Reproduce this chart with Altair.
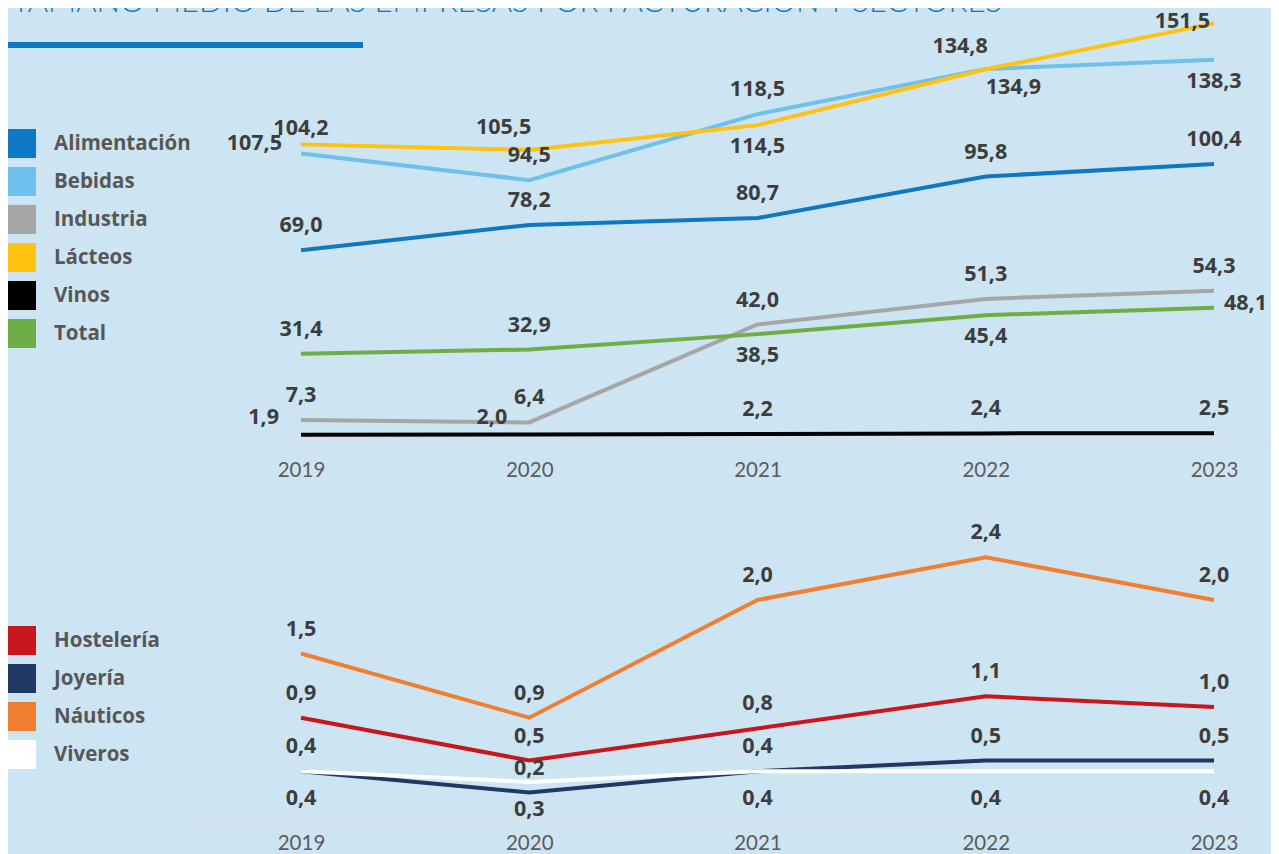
import altair as alt
import pandas as pd

# ---------------- data ----------------
years = ["2019", "2020", "2021", "2022", "2023"]

top_series = ["Alimentación", "Bebidas", "Industria", "Lácteos", "Vinos", "Total"]
top_colors = ["#0f78c3", "#6fc0ec", "#a6a6a6", "#ffc20e", "#000000", "#6fad46"]
alimentacion = [69.0, 78.2, 80.7, 95.8, 100.4]
bebidas = [104.2, 94.5, 118.5, 134.9, 138.3]
industria = [7.3, 6.4, 42.0, 51.3, 54.3]
lacteos = [107.5, 105.5, 114.5, 134.8, 151.5]
vinos = [1.9, 2.0, 2.2, 2.4, 2.5]
total = [31.4, 32.9, 38.5, 45.4, 48.1]

bottom_series = ["Hostelería", "Joyería", "Náuticos", "Viveros"]
bottom_colors = ["#c8161d", "#1f3864", "#f07f32", "#ffffff"]
hosteleria = [0.9, 0.5, 0.8, 1.1, 1.0]
joyeria = [0.4, 0.2, 0.4, 0.5, 0.5]
nauticos = [1.5, 0.9, 2.0, 2.4, 2.0]
viveros = [0.4, 0.3, 0.4, 0.4, 0.4]

title_text = "TAMAÑO MEDIO DE LAS EMPRESAS POR FACTURACIÓN Y SECTORES"

# ---------------- label placement (style, not data) ----------------
placements = {
    "above": dict(align="center", dx=0, dy=-24),
    "below": dict(align="center", dx=0, dy=22),
    "below_far": dict(align="center", dx=0, dy=28),
    "left": dict(align="right", dx=-19, dy=0),
    "upleft": dict(align="right", dx=-22, dy=-17),
    "aboveleft": dict(align="right", dx=2, dy=-22),
    "leftup": dict(align="right", dx=-4, dy=-1),
    "belowright": dict(align="left", dx=0, dy=19),
    "right": dict(align="left", dx=10, dy=-4),
}
place_of = {
    ("Lácteos", "2019"): "left",
    ("Vinos", "2019"): "upleft",
    ("Vinos", "2020"): "upleft",
    ("Lácteos", "2020"): "aboveleft",
    ("Lácteos", "2021"): "below",
    ("Total", "2021"): "below",
    ("Total", "2022"): "below",
    ("Lácteos", "2022"): "aboveleft",
    ("Bebidas", "2022"): "belowright",
    ("Lácteos", "2023"): "leftup",
    ("Bebidas", "2023"): "below",
    ("Total", "2023"): "right",
}
for y in years:
    place_of[("Viveros", y)] = "below_far"


def fmt(v):
    return f"{v:.1f}".replace(".", ",")


def build(names, arrays):
    rows = []
    for name, arr in zip(names, arrays):
        for yr, v in zip(years, arr):
            rows.append({"year": yr, "series": name, "value": v, "label": fmt(v),
                         "place": place_of.get((name, yr), "above")})
    return pd.DataFrame(rows)


top_df = build(top_series, [alimentacion, bebidas, industria, lacteos, vinos, total])
bot_df = build(bottom_series, [hosteleria, joyeria, nauticos, viveros])

FONT = "Lato"
LFONT = "Open Sans"
LABEL_COLOR = "#3d3d3d"
W, H = 1263, 846

xscale = alt.Scale(type="point", domain=years, range=[293, 1206], padding=0)


def make_axis(offset, pad):
    return alt.Axis(orient="bottom", offset=offset, labelPadding=pad, ticks=False, tickSize=0,
                    domain=False, grid=False, title=None, labelFont=FONT, labelFontSize=20.5,
                    labelFontWeight="normal", labelColor="#5c5c5c", labelAngle=0)


def panel_layers(df, names, colors, yscale, axis, legend_y):
    base = alt.Chart(df)
    y = alt.Y("value:Q", scale=yscale, axis=None)
    legend = alt.Legend(orient="none", legendX=-1, legendY=legend_y, title=None,
                        symbolType="square", symbolSize=841, symbolStrokeWidth=0,
                        symbolOpacity=1, labelFont=LFONT, labelFontSize=20.5,
                        labelFontWeight="bold", labelColor="#575757", rowPadding=9,
                        labelOffset=18, padding=0, labelLimit=300)
    lines = base.mark_line(strokeWidth=4).encode(
        x=alt.X("year:N", scale=xscale, axis=axis), y=y,
        color=alt.Color("series:N", scale=alt.Scale(domain=names, range=colors), legend=None),
    )
    legend_layer = base.mark_square(filled=True, size=0, opacity=1).encode(
        x=alt.X("year:N", scale=xscale, axis=None), y=y,
        fill=alt.Fill("series:N", scale=alt.Scale(domain=names, range=colors), legend=legend),
    )
    out = [lines, legend_layer]
    for key, p in placements.items():
        if not (df["place"] == key).any():
            continue
        out.append(
            base.transform_filter(alt.datum.place == key).mark_text(
                font=LFONT, fontSize=21.5, fontWeight="bold", color=LABEL_COLOR,
                align=p["align"], baseline="middle", dx=p["dx"], dy=p["dy"],
            ).encode(x=alt.X("year:N", scale=xscale, axis=None), y=y, text="label:N")
        )
    return out


top_layers = panel_layers(top_df, top_series, top_colors,
                          alt.Scale(domain=[0, 150], range=[432, 19.5], nice=False, zero=False),
                          make_axis(432 - H, 20), 121)
bottom_layers = panel_layers(bot_df, bottom_series, bottom_colors,
                             alt.Scale(domain=[0, 2], range=[806, 592], nice=False, zero=False),
                             make_axis(806 - H, 19), 618)

one = pd.DataFrame({"k": [0]})
deco = [
    alt.Chart(one).mark_rule(color="#d9dde0", strokeWidth=2).encode(
        x=alt.value(177), x2=alt.value(1263), y=alt.value(433)),
    alt.Chart(one).mark_rule(color="#d9dde0", strokeWidth=2).encode(
        x=alt.value(184), x2=alt.value(1241), y=alt.value(810)),
    alt.Chart(one).mark_rule(color="#0b79c1", strokeWidth=6).encode(
        x=alt.value(-1), x2=alt.value(355), y=alt.value(37)),
    alt.Chart(one).mark_text(font=FONT, fontSize=31, fontWeight=300, color="#0b79c1",
                             align="left", baseline="alphabetic").encode(
        x=alt.value(4), y=alt.value(4), text=alt.value(title_text)),
]

chart = alt.layer(*deco, *top_layers, *bottom_layers).resolve_scale(
    y="independent", color="independent", fill="independent"
).resolve_axis(x="independent").resolve_legend(fill="independent").properties(
    width=W, height=H, autosize=alt.AutoSizeParams(type="none"), padding=0,
).configure(background="#cde4f2").configure_view(stroke=None)

chart.save("out.html", embed_options={"renderer": "svg", "actions": False})
